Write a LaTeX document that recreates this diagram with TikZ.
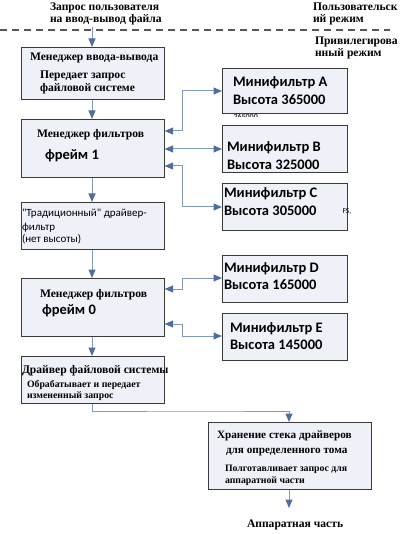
\documentclass[tikz,border=0pt]{standalone}
\usepackage{fontspec}
\setmainfont{Liberation Serif}
\newfontfamily\carlfont{Carlito}
\usetikzlibrary{arrows.meta}
\definecolor{boxfill}{HTML}{EEF1F8}
\definecolor{boxdraw}{HTML}{3A3A3A}
\definecolor{lineblue}{HTML}{8299BC}
\definecolor{tipblue}{HTML}{4E6EA2}
\tikzset{
  box/.style={draw=boxdraw, fill=boxfill, line width=1.1pt, inner sep=0pt},
  txt/.style={anchor=base west, inner sep=0pt, outer sep=0pt},
  serb/.style={txt, font=\bfseries\fontsize{11.6}{13}\selectfont},
  serm/.style={txt, font=\bfseries\fontsize{11.2}{13}\selectfont},
  sers/.style={txt, font=\bfseries\fontsize{9.8}{11}\selectfont},
  mini/.style={txt, font=\carlfont\bfseries\fontsize{14.5}{16}\selectfont},
  calr/.style={txt, font=\carlfont\fontsize{11}{13}\selectfont},
  conn/.style={draw=lineblue, line width=1pt, -{Triangle[length=8.5pt,width=7pt,color=tipblue]}},
  dconn/.style={draw=lineblue, line width=1pt, {Triangle[length=8.5pt,width=7pt,color=tipblue]}-{Triangle[length=8.5pt,width=7pt,color=tipblue]}},
}
\newcommand{\boxat}[5]{\node[box, minimum width=#4-#2, minimum height=#5-#3, anchor=north west] (#1) at (#2,#3) {};}
\begin{document}
\begin{tikzpicture}[x=1pt,y=-1pt]
\useasboundingbox (0,0) rectangle (407,534);
% top texts
\node[serb] (q1) at (50,11) {Запрос пользователя};
\node[serb] (q2) at (50,22.5) {на ввод-вывод файла};
\node[serb] (u1) at (313,11) {Пользовательск};
\node[serb] (u2) at (313,22.5) {ий режим};
\node[serb] (p1) at (315,45) {Привилегирова};
\node[serb] (p2) at (315,57) {нный режим};
\draw[boxdraw!85, line width=1.2pt, dash pattern=on 7pt off 5pt] (0,30) -- (390,30);
\coordinate (qs) at (92,27);
% stray clipped number under A
\begin{scope}
\clip (230,112) rectangle (262,117);
\node[txt, font=\carlfont\bfseries\fontsize{8}{9}\selectfont, text=black!80] (sA) at (233.5,119.5) {365000};
\end{scope}
% boxes
\boxat{b1}{20.5}{47}{163.5}{99}
\boxat{b2}{20.5}{119}{163.5}{177}
\boxat{b3}{20.5}{202}{163.5}{249}
\boxat{b4}{20.5}{278}{163.5}{336}
\boxat{b5}{20.5}{356}{163.5}{403}
\boxat{b6}{208}{422}{371}{489}
\boxat{mA}{222}{68}{347}{113}
\boxat{mB}{222}{125}{347}{172}
\boxat{mC}{222}{183}{347}{230}
\boxat{mD}{222}{255}{347}{302}
\boxat{mE}{222}{313}{347}{360}
% box texts
\node[serb] (t1a) at (30,61) {Менеджер ввода-вывода};
\node[serb] (t1b) at (40,79) {Передает запрос};
\node[serb] (t1c) at (40,92) {файловой системе};
\node[serb] (t2a) at (37,138) {Менеджер фильтров};
\node[mini] (t2b) at (45,160) {фрейм 1};
\node[calr] (t3a) at (22,217) {"Традиционный" драйвер-};
\node[calr] (t3b) at (22,230) {фильтр};
\node[calr] (t3c) at (22,242) {(нет высоты)};
\node[serb] (t4a) at (40,297) {Менеджер фильтров};
\node[mini] (t4b) at (42,314) {фрейм 0};
\node[serb] (t5a) at (22,373) {Драйвер файловой системы};
\node[sers] (t5b) at (27,387) {Обрабатывает и передает};
\node[sers] (t5c) at (27,398.5) {измененный запрос};
\node[serm] (t6a) at (217,438) {Хранение стека драйверов};
\node[serm] (t6b) at (226,453) {для определенного тома};
\node[sers] (t6c) at (225,471.5) {Полготавливает запрос для};
\node[sers] (t6d) at (225,483) {аппаратной части};
\node[serb] (hw) at (247,527) {Аппаратная часть};
\node[mini] (tAa) at (233,87) {Минифильтр A};
\node[mini] (tAb) at (233,105) {Высота 365000};
\node[mini] (tBa) at (227,152) {Минифильтр B};
\node[mini] (tBb) at (227,170) {Высота 325000};
\node[mini] (tCa) at (224,198) {Минифильтр C};
\node[mini] (tCb) at (224,216) {Высота 305000};
\node[txt, font=\carlfont\fontsize{7.5}{9}\selectfont] (fs) at (342.5,214) {FS,};
\node[mini] (tDa) at (224,272) {Минифильтр D};
\node[mini] (tDb) at (224,289) {Высота 165000};
\node[mini] (tEa) at (230,332) {Минифильтр E};
\node[mini] (tEb) at (230,349.5) {Высота 145000};
% vertical flow
\draw[conn] (qs) -- (b1.north -| qs);
\draw[conn] (b1.south -| qs) -- (b2.north -| qs);
\draw[conn] (b2.south -| qs) -- (b3.north -| qs);
\draw[conn] (b3.south -| qs) -- (b4.north -| qs);
\draw[conn] (b4.south -| qs) -- (b5.north -| qs);
\coordinate (hwarrow) at (289,508);
\draw[conn] (b5.south -| qs) |- (200,411) -| (b6.north -| hwarrow);
\draw[conn] (b6.south -| hwarrow) -- (hwarrow);
% minifilter connectors
\draw[dconn] (b2.east |- 0,131) -| (182,91) -- (mA.west |- 0,91);
\draw[dconn] (b2.east |- 0,149) -- (mB.west |- 0,149);
\draw[dconn] (b2.east |- 0,166) -| (182,207) -- (mC.west |- 0,207);
\draw[dconn] (b4.east |- 0,289) -| (182,278) -- (mD.west |- 0,278);
\draw[dconn] (b4.east |- 0,324) -| (182,336) -- (mE.west |- 0,336);
\end{tikzpicture}
\end{document}
